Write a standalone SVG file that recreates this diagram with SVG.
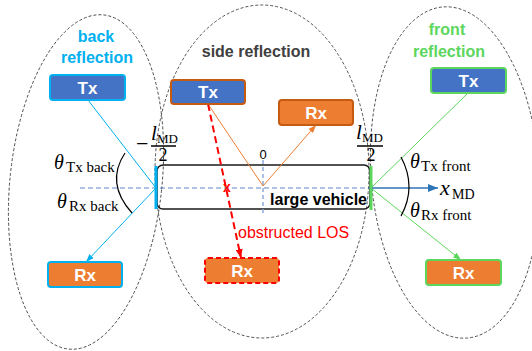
<svg xmlns="http://www.w3.org/2000/svg" width="532" height="351" viewBox="0 0 532 351">
<style>
.ell{fill:none;stroke:#404040;stroke-width:0.9;stroke-dasharray:3,2}
.box{stroke-width:2}
.blue{fill:#4472C4}
.orange{fill:#ED7D31}
.bt{font-family:"Liberation Sans",Arial,sans-serif;font-weight:bold;font-size:17px;fill:#fff;text-anchor:middle}
.lbl{font-family:"Liberation Sans",Arial,sans-serif;font-weight:bold;font-size:16px;text-anchor:middle}
.m{font-family:"Liberation Serif","DejaVu Serif",serif;fill:#000}
.th{font-style:italic;font-size:20px}
.ms{font-size:15px}
</style>
<defs>
<marker id="aO" markerWidth="8" markerHeight="6" refX="8" refY="3" orient="auto" markerUnits="userSpaceOnUse"><path d="M0,0 L8,3 L0,6 z" fill="#ED7D31"/></marker>
<marker id="aC" markerWidth="8" markerHeight="6" refX="8" refY="3" orient="auto" markerUnits="userSpaceOnUse"><path d="M0,0 L8,3 L0,6 z" fill="#00B0F0"/></marker>
<marker id="aG" markerWidth="8" markerHeight="6" refX="8" refY="3" orient="auto" markerUnits="userSpaceOnUse"><path d="M0,0 L8,3 L0,6 z" fill="#5CD65C"/></marker>
<marker id="aR" markerWidth="9" markerHeight="7" refX="9" refY="3.5" orient="auto" markerUnits="userSpaceOnUse"><path d="M0,0 L9,3.5 L0,7 z" fill="#FF0000"/></marker>
<marker id="aB" markerWidth="10" markerHeight="8" refX="10" refY="4" orient="auto" markerUnits="userSpaceOnUse"><path d="M0,0 L10,4 L0,8 z" fill="#2E75B6"/></marker>
</defs>
<rect width="532" height="351" fill="#fff"/>

<g id="regions">
<ellipse class="ell" cx="86" cy="182" rx="76" ry="168" transform="rotate(6 86 182)"/>
<ellipse class="ell" cx="262" cy="171.5" rx="107" ry="166.5"/>
<ellipse class="ell" cx="455" cy="172.5" rx="84" ry="166" transform="rotate(-4 455 172.5)"/>
</g>

<g id="vehicle">
<rect x="157" y="165" width="213" height="44" rx="6" fill="none" stroke="#1a1a1a" stroke-width="1.5"/>
<line x1="80" y1="188" x2="371" y2="188" stroke="#4472C4" stroke-width="1.2" stroke-dasharray="5,3" opacity="0.85"/>
<line x1="263" y1="160" x2="263" y2="213" stroke="#8FAADC" stroke-width="1.5" stroke-dasharray="4,3"/>
<line x1="156" y1="166" x2="156" y2="209" stroke="#00B0F0" stroke-width="3"/>
<line x1="371" y1="166" x2="371" y2="210" stroke="#5CD65C" stroke-width="3"/>
<text x="367" y="205" font-family="Liberation Sans,Arial,sans-serif" font-weight="bold" font-size="16" text-anchor="end" fill="#000">large vehicle</text>
<text x="263" y="159" font-family="Liberation Sans,Arial,sans-serif" font-size="13" text-anchor="middle" fill="#000">0</text>
</g>

<g id="connectors">
<line x1="88" y1="100" x2="156" y2="188" stroke="#00B0F0" stroke-width="1"/>
<line x1="156" y1="188" x2="86" y2="262" stroke="#00B0F0" stroke-width="1" marker-end="url(#aC)"/>
<line x1="208" y1="104" x2="263" y2="186" stroke="#ED7D31" stroke-width="1"/>
<line x1="263" y1="186" x2="316" y2="125" stroke="#ED7D31" stroke-width="1" marker-end="url(#aO)"/>
<line x1="208" y1="104" x2="241" y2="258" stroke="#FF0000" stroke-width="2" stroke-dasharray="7,4" marker-end="url(#aR)"/>
<line x1="468" y1="93" x2="371" y2="188" stroke="#5CD65C" stroke-width="1"/>
<line x1="371" y1="188" x2="461" y2="260" stroke="#5CD65C" stroke-width="1" marker-end="url(#aG)"/>
<line x1="372" y1="188" x2="438" y2="188" stroke="#2E75B6" stroke-width="1.5" marker-end="url(#aB)"/>
<path d="M125,153 Q105,183 132,213" fill="none" stroke="#000" stroke-width="1.2"/>
<path d="M401,157 Q417,187 401,216" fill="none" stroke="#000" stroke-width="1.2"/>
<text x="227" y="192" font-family="Liberation Sans,Arial,sans-serif" font-weight="bold" font-size="14" text-anchor="middle" fill="#FF0000">x</text>
<text x="238" y="238" font-family="Liberation Sans,Arial,sans-serif" font-size="16" fill="#FF0000">obstructed LOS</text>
</g>

<g id="back">
<text class="lbl" x="96" y="42" fill="#00B0F0">back</text>
<text class="lbl" x="97" y="63" fill="#00B0F0">reflection</text>
</g>
<g id="side">
<text class="lbl" x="256" y="57" fill="#404040">side reflection</text>
</g>
<g id="front">
<text class="lbl" x="447" y="35" fill="#5CD65C">front</text>
<text class="lbl" x="449" y="57" fill="#5CD65C">reflection</text>
</g>

<g id="backTx"><rect class="box blue" x="50" y="75" width="75" height="25" rx="3" stroke="#00B0F0"/><text class="bt" x="87.5" y="93.5">Tx</text></g>
<g id="backRx"><rect class="box orange" x="48" y="262" width="74" height="25" rx="3" stroke="#00B0F0"/><text class="bt" x="85" y="280.5">Rx</text></g>
<g id="sideTx"><rect class="box blue" x="171" y="80" width="74" height="24" rx="3" stroke="#C55A11"/><text class="bt" x="208" y="98">Tx</text></g>
<g id="sideRx"><rect class="box orange" x="279" y="100" width="74" height="25" rx="3" stroke="#C55A11"/><text class="bt" x="316" y="118.5">Rx</text></g>
<g id="obstructedRx"><rect class="box orange" x="205" y="258" width="74" height="25" rx="3" stroke="#FF0000" stroke-dasharray="5,3"/><text class="bt" x="242" y="276.5">Rx</text></g>
<g id="frontTx"><rect class="box blue" x="431" y="68" width="75" height="25" rx="3" stroke="#5CD65C"/><text class="bt" x="468.5" y="86.5">Tx</text></g>
<g id="frontRx"><rect class="box orange" x="426" y="260" width="75" height="25" rx="3" stroke="#5CD65C"/><text class="bt" x="463.5" y="278.5">Rx</text></g>

<g id="math">
<text class="m" x="136" y="151" font-size="22">−</text>
<text class="m" x="151" y="140" font-size="21" font-style="italic">l</text>
<text class="m" x="157" y="143" font-size="13">MD</text>
<line x1="151" y1="146" x2="176" y2="146" stroke="#000" stroke-width="1.5"/>
<text class="m" x="163" y="161" font-size="18" text-anchor="middle">2</text>

<text class="m" x="356" y="139" font-size="21" font-style="italic">l</text>
<text class="m" x="362" y="142" font-size="13">MD</text>
<line x1="357" y1="146" x2="383" y2="146" stroke="#000" stroke-width="1.5"/>
<text class="m" x="371" y="161" font-size="18" text-anchor="middle">2</text>

<text class="m th" x="54" y="169">θ</text><text class="m ms" x="66" y="172">Tx back</text>
<text class="m th" x="57" y="208">θ</text><text class="m ms" x="69" y="211">Rx back</text>
<text class="m th" x="410" y="168">θ</text><text class="m ms" x="421" y="171">Tx front</text>
<text class="m th" x="410" y="217">θ</text><text class="m ms" x="421" y="220">Rx front</text>
<text class="m" x="440" y="195" font-size="22" font-style="italic">x</text><text class="m" x="452" y="199" font-size="14">MD</text>
</g>
</svg>
